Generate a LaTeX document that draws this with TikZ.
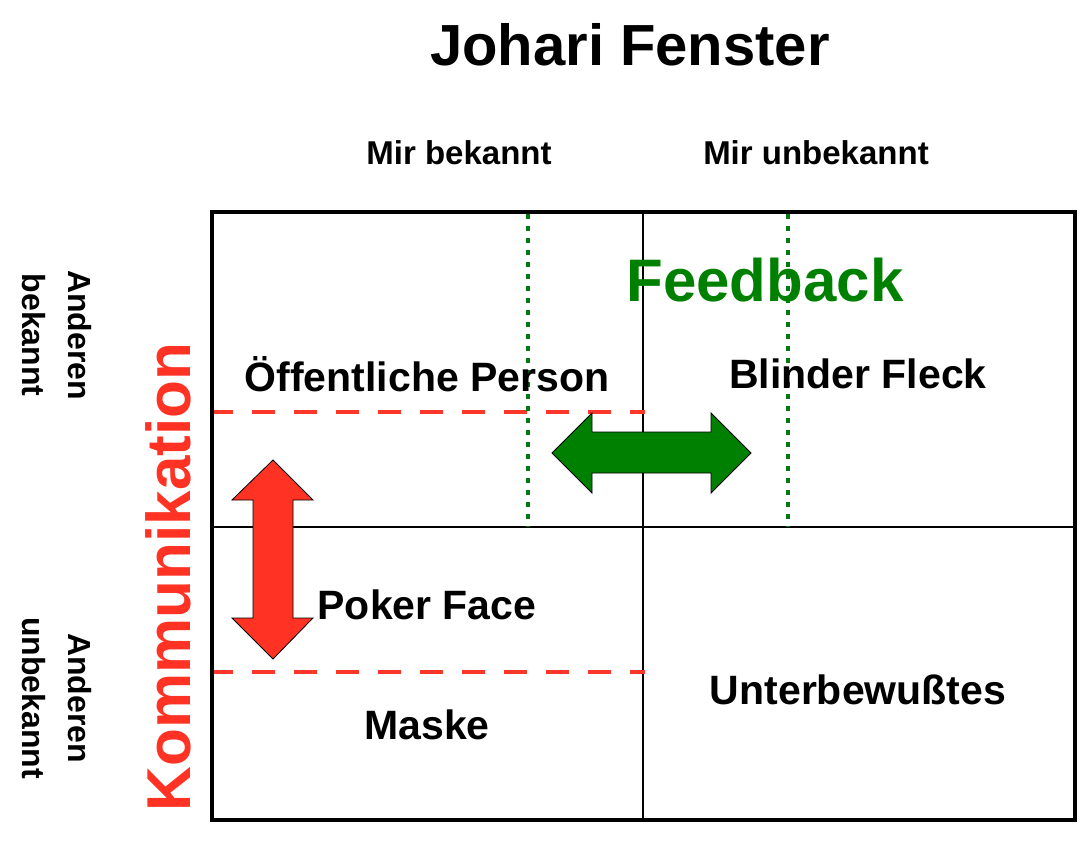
\documentclass[tikz,border=0pt]{standalone}
\usepackage{fontspec}
\setmainfont{Liberation Sans}
\definecolor{kred}{RGB}{255,50,35}
\definecolor{dred}{RGB}{250,55,40}
\definecolor{fgreen}{RGB}{0,128,0}
\definecolor{dgreen}{RGB}{0,120,20}
\tikzset{
  lbl/.style={font=\bfseries\fontsize{41}{45}\selectfont, inner sep=0pt},
  head/.style={font=\bfseries\fontsize{33}{37}\selectfont, inner sep=0pt},
  side/.style={font=\bfseries\fontsize{32}{46}\selectfont, inner sep=0pt, align=center},
  reddash/.style={dred, line width=4.5pt, dash pattern=on 23pt off 19pt},
  greendot/.style={dgreen, line width=4pt, dash pattern=on 5pt off 7pt},
}
\begin{document}
\begin{tikzpicture}[x=1pt,y=-1pt]
\useasboundingbox (0,0) rectangle (1080,846);
% title
\node[font=\bfseries\fontsize{58}{64}\selectfont, inner sep=0pt] (title) at (630,45) {Johari Fenster};
\node[head] (mb) at (459,153) {Mir bekannt};
\node[head] (mu) at (816,153) {Mir unbekannt};
\node[side, rotate=-90] (ab) at (57,335) {Anderen\\bekannt};
\node[side, rotate=-90] (au) at (57,698) {Anderen\\unbekannt};
% grid
\coordinate (tl) at (212,212);
\coordinate (br) at (1075,820);
\draw[line width=1.5pt] (643,212) -- (643,820);
\draw[line width=1.5pt] (212,527) -- (1075,527);
% dashed / dotted
\draw[reddash] (210,412) -- (645,412);
\draw[reddash] (210,672) -- (645,672);
\draw[greendot] (528,214) -- (528,527);
\draw[greendot] (788,214) -- (788,527);
\draw[line width=4pt] (tl) rectangle (br);
% labels
\node[lbl] (op) at (427,374) {Öffentliche Person};
\node[lbl] (bf) at (858,374) {Blinder Fleck};
\node[lbl] (pf) at (427,605) {Poker Face};
\node[lbl] (mk) at (427,725) {Maske};
\node[lbl] (ub) at (858,690) {Unterbewußtes};
\node[font=\bfseries\fontsize{60}{66}\selectfont, text=fgreen, inner sep=0pt] (fb) at (765,280) {Feedback};
\node[font=\bfseries\fontsize{62}{68}\selectfont, text=kred, inner sep=0pt, rotate=90] (ko) at (168,577) {Kommunikation};
% arrows
\draw[fill=fgreen, draw=black, line width=0.8pt] (552,453) -- (592,413) -- (592,432) -- (711,432) -- (711,413) -- (751,453) -- (711,493) -- (711,473) -- (592,473) -- (592,493) -- cycle;
\draw[fill=kred, draw=black, line width=0.8pt] (273,460) -- (313,500) -- (293,500) -- (293,618) -- (313,618) -- (273,659) -- (232,618) -- (253,618) -- (253,500) -- (232,500) -- cycle;
\end{tikzpicture}
\end{document}
